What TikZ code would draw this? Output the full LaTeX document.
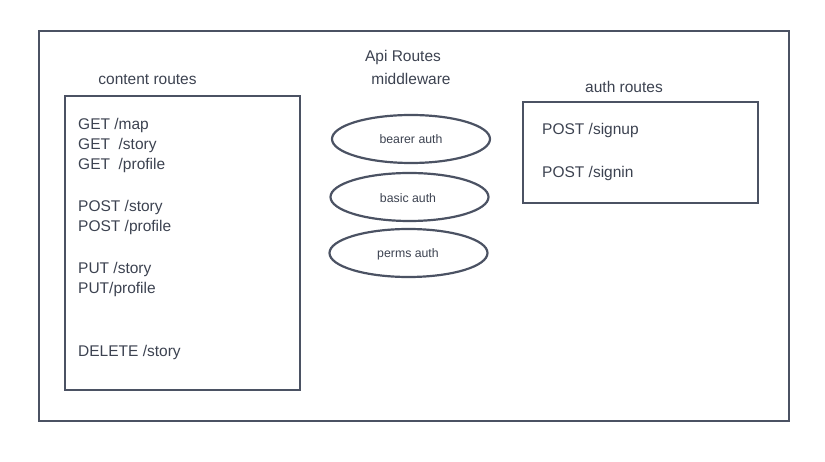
\documentclass[tikz,border=0pt]{standalone}
\usepackage{fontspec}
\setmainfont{Liberation Sans}
\usetikzlibrary{shapes.geometric}
\definecolor{linec}{HTML}{4B5263}
\definecolor{textc}{HTML}{3C4250}
\tikzset{
  box/.style={draw=linec, line width=2.2pt, rectangle, inner sep=0pt},
  oval/.style={draw=linec, line width=2.2pt, ellipse, inner sep=0pt, minimum width=158pt, minimum height=48pt},
  lbl/.style={text=textc, inner sep=0pt, font=\fontsize{15.5}{17}\selectfont},
  small/.style={text=textc, inner sep=0pt, font=\fontsize{12.3}{14}\selectfont},
}
\begin{document}
\begin{tikzpicture}[x=1pt,y=-1pt]
\useasboundingbox (0,0) rectangle (825,462);
% boxes
\node[box, minimum width=750pt, minimum height=390pt] (outer) at (414,226) {};
\node[box, minimum width=235pt, minimum height=294pt] (content) at (182.5,243) {};
\node[box, minimum width=235pt, minimum height=101pt] (auth) at (640.5,152.5) {};
% titles
\node[lbl, anchor=base] (apiT) at (403,62) {Api Routes};
\node[lbl, anchor=base] (mwT) at (411,85) {middleware};
\node[lbl, anchor=base] (contT) at (147.5,85) {content routes};
\node[lbl, anchor=base] (authT) at (624,93) {auth routes};
% content routes
\node[lbl, anchor=base west] (c1) at (78,130) {GET /map};
\node[lbl, anchor=base west] (c2) at (78,150) {GET\ \ /story};
\node[lbl, anchor=base west] (c3) at (78,170) {GET\ \ /profile};
\node[lbl, anchor=base west] (c4) at (78,212) {POST /story};
\node[lbl, anchor=base west] (c5) at (78,232) {POST /profile};
\node[lbl, anchor=base west] (c6) at (78,274) {PUT /story};
\node[lbl, anchor=base west] (c7) at (78,294) {PUT/profile};
\node[lbl, anchor=base west] (c8) at (78,357) {DELETE /story};
% auth routes
\node[lbl, anchor=base west] (a1) at (542,135) {POST /signup};
\node[lbl, anchor=base west] (a2) at (542,178) {POST /signin};
% middleware
\node[oval] (bearer) at (411,139) {};
\node[small, anchor=base] (bearerT) at (411,144) {bearer auth};
\node[oval] (basic) at (409.5,197) {};
\node[small, anchor=base] (basicT) at (408,203) {basic auth};
\node[oval] (perms) at (408.5,253) {};
\node[small, anchor=base] (permsT) at (408,258) {perms auth};
\end{tikzpicture}
\end{document}
